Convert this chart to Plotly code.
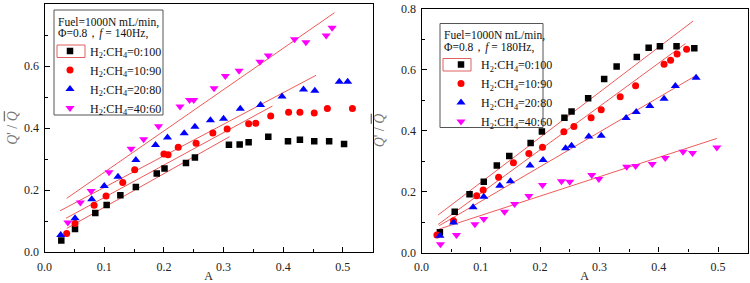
import plotly.graph_objects as go

# ---------------- data: left panel (f = 140 Hz) ----------------
series_labels = ["H<sub>2</sub>:CH<sub>4</sub>=0:100", "H<sub>2</sub>:CH<sub>4</sub>=10:90",
                 "H<sub>2</sub>:CH<sub>4</sub>=20:80", "H<sub>2</sub>:CH<sub>4</sub>=40:60"]
header_left = ["Fuel=1000N mL/min,", "Φ=0.8，<i>f</i> = 140Hz,"]
header_right = ["Fuel=1000N mL/min,", "Φ=0.8，<i>f</i> = 180Hz,"]

l_x_0_100 = [0.028, 0.051, 0.085, 0.104, 0.127, 0.153, 0.188, 0.201, 0.237, 0.252, 0.309, 0.327, 0.342, 0.375, 0.408, 0.428, 0.452, 0.477, 0.502]
l_y_0_100 = [0.037, 0.074, 0.126, 0.152, 0.183, 0.210, 0.253, 0.269, 0.287, 0.305, 0.346, 0.347, 0.354, 0.372, 0.357, 0.362, 0.357, 0.357, 0.348]
l_x_10_90 = [0.037, 0.051, 0.083, 0.103, 0.131, 0.151, 0.200, 0.207, 0.224, 0.254, 0.282, 0.306, 0.342, 0.354, 0.379, 0.409, 0.428, 0.452, 0.474, 0.516]
l_y_10_90 = [0.060, 0.092, 0.151, 0.181, 0.224, 0.265, 0.316, 0.314, 0.338, 0.351, 0.384, 0.397, 0.414, 0.415, 0.439, 0.451, 0.451, 0.448, 0.463, 0.463]
l_x_20_80 = [0.027, 0.051, 0.079, 0.100, 0.123, 0.153, 0.186, 0.206, 0.234, 0.252, 0.278, 0.300, 0.328, 0.362, 0.398, 0.434, 0.453, 0.494, 0.508]
l_y_20_80 = [0.055, 0.109, 0.170, 0.213, 0.243, 0.297, 0.345, 0.369, 0.383, 0.404, 0.425, 0.430, 0.462, 0.474, 0.502, 0.524, 0.520, 0.549, 0.549]
l_x_40_60 = [0.039, 0.060, 0.078, 0.108, 0.145, 0.166, 0.191, 0.227, 0.243, 0.250, 0.284, 0.303, 0.326, 0.361, 0.375, 0.419, 0.438, 0.472, 0.482]
l_y_40_60 = [0.095, 0.160, 0.197, 0.257, 0.333, 0.364, 0.406, 0.469, 0.490, 0.490, 0.528, 0.568, 0.585, 0.614, 0.634, 0.686, 0.677, 0.698, 0.723]

# fitted lines (end points) left
l_fit_x_0_100 = [0.037, 0.310]; l_fit_y_0_100 = [0.076, 0.372]
l_fit_x_10_90 = [0.036, 0.382]; l_fit_y_10_90 = [0.109, 0.471]
l_fit_x_20_80 = [0.026, 0.455]; l_fit_y_20_80 = [0.133, 0.570]
l_fit_x_40_60 = [0.037, 0.486]; l_fit_y_40_60 = [0.173, 0.772]

# ---------------- data: right panel (f = 180 Hz) ----------------
r_x_0_100 = [0.031, 0.056, 0.081, 0.105, 0.127, 0.148, 0.184, 0.203, 0.241, 0.253, 0.281, 0.308, 0.329, 0.363, 0.383, 0.402, 0.430, 0.460]
r_y_0_100 = [0.066, 0.134, 0.191, 0.232, 0.285, 0.316, 0.359, 0.397, 0.442, 0.462, 0.506, 0.569, 0.610, 0.641, 0.671, 0.676, 0.676, 0.670]
r_x_10_90 = [0.026, 0.054, 0.093, 0.104, 0.130, 0.155, 0.181, 0.204, 0.240, 0.257, 0.286, 0.303, 0.335, 0.361, 0.409, 0.420, 0.431, 0.447]
r_y_10_90 = [0.057, 0.104, 0.186, 0.205, 0.247, 0.294, 0.325, 0.345, 0.396, 0.413, 0.442, 0.468, 0.511, 0.547, 0.617, 0.630, 0.651, 0.666]
r_x_20_80 = [0.031, 0.054, 0.087, 0.105, 0.132, 0.150, 0.183, 0.205, 0.243, 0.253, 0.282, 0.303, 0.345, 0.362, 0.385, 0.409, 0.428, 0.463]
r_y_20_80 = [0.055, 0.098, 0.148, 0.183, 0.219, 0.234, 0.285, 0.303, 0.342, 0.350, 0.380, 0.383, 0.441, 0.461, 0.480, 0.504, 0.546, 0.573]
r_x_40_60 = [0.032, 0.059, 0.090, 0.105, 0.140, 0.157, 0.181, 0.204, 0.236, 0.250, 0.287, 0.299, 0.346, 0.361, 0.389, 0.411, 0.441, 0.457, 0.498]
r_y_40_60 = [0.027, 0.057, 0.093, 0.110, 0.134, 0.159, 0.185, 0.221, 0.234, 0.232, 0.254, 0.241, 0.281, 0.284, 0.290, 0.310, 0.330, 0.326, 0.344]

r_fit_x_0_100 = [0.028, 0.458]; r_fit_y_0_100 = [0.123, 0.759]
r_fit_x_10_90 = [0.028, 0.445]; r_fit_y_10_90 = [0.092, 0.685]
r_fit_x_20_80 = [0.030, 0.461]; r_fit_y_20_80 = [0.088, 0.578]
r_fit_x_40_60 = [0.030, 0.498]; r_fit_y_40_60 = [0.077, 0.374]

x_tick_vals = [0.0, 0.1, 0.2, 0.3, 0.4, 0.5]
y_tick_vals = [0.0, 0.2, 0.4, 0.6, 0.8]

# ---------------- styles ----------------
W, H = 750, 283
FONT = "Liberation Serif"
LEG_FS = 12
HDR_FS = 11.5
colors = ["#000000", "#ff0000", "#0000ff", "#ff00ff"]
symbols = ["square", "circle", "triangle-up", "triangle-down"]
sizes = [6.5, 7, 8, 8]
fit_color = "#ee5a5a"

fig = go.Figure()

left_sets = [(l_x_0_100, l_y_0_100, l_fit_x_0_100, l_fit_y_0_100),
             (l_x_10_90, l_y_10_90, l_fit_x_10_90, l_fit_y_10_90),
             (l_x_20_80, l_y_20_80, l_fit_x_20_80, l_fit_y_20_80),
             (l_x_40_60, l_y_40_60, l_fit_x_40_60, l_fit_y_40_60)]
right_sets = [(r_x_0_100, r_y_0_100, r_fit_x_0_100, r_fit_y_0_100),
              (r_x_10_90, r_y_10_90, r_fit_x_10_90, r_fit_y_10_90),
              (r_x_20_80, r_y_20_80, r_fit_x_20_80, r_fit_y_20_80),
              (r_x_40_60, r_y_40_60, r_fit_x_40_60, r_fit_y_40_60)]

for panel, sets in enumerate([left_sets, right_sets]):
    xa = "x" if panel == 0 else "x2"
    ya = "y" if panel == 0 else "y2"
    lg = "legend" if panel == 0 else "legend2"
    for i, (xs, ys, fx, fy) in enumerate(sets):
        fig.add_trace(go.Scatter(x=fx, y=fy, mode="lines", xaxis=xa, yaxis=ya,
                                 line=dict(color=fit_color, width=1), showlegend=False,
                                 hoverinfo="skip"))
    for i, (xs, ys, fx, fy) in enumerate(sets):
        fig.add_trace(go.Scatter(x=xs, y=ys, mode="markers", xaxis=xa, yaxis=ya,
                                 name=series_labels[i], legend=lg,
                                 marker=dict(symbol=symbols[i], color=colors[i], size=sizes[i],
                                             line=dict(width=0))))

def xaxis_cfg(domain):
    return dict(domain=domain, range=[0, 0.55], tickvals=x_tick_vals,
                ticktext=[f"{v:.1f}" for v in x_tick_vals], automargin=False,
                ticks="inside", ticklen=5, tickwidth=1, tickcolor="#000", ticklabelstandoff=3,
                minor=dict(dtick=0.05, tick0=0, ticks="inside", ticklen=3, tickwidth=1, tickcolor="#000"),
                showline=True, linecolor="#000", linewidth=1.2, mirror=True,
                showgrid=False, zeroline=False,
                tickfont=dict(family=FONT, size=12, color="#222"),
                title=dict(text="A", font=dict(family=FONT, size=12, color="#222"), standoff=0))

def yaxis_cfg(domain, anchor, standoff):
    return dict(domain=domain, range=[0, 0.8], anchor=anchor, tickvals=y_tick_vals,
                ticktext=[f"{v:.1f}" for v in y_tick_vals], automargin=False,
                ticks="inside", ticklen=5, tickwidth=1, tickcolor="#000", ticklabelstandoff=2,
                minor=dict(dtick=0.1, tick0=0, ticks="inside", ticklen=3, tickwidth=1, tickcolor="#000"),
                showline=True, linecolor="#000", linewidth=1.2, mirror=True,
                showgrid=False, zeroline=False,
                tickfont=dict(family=FONT, size=12, color="#222"),
                title=dict(text="<i>Q</i>' / <span style=\"text-decoration:overline\"><i>Q</i></span>",
                           font=dict(family=FONT, size=14, color="#777"), standoff=standoff))

legend_common = dict(bgcolor="rgba(0,0,0,0)", borderwidth=0,
                     font=dict(family=FONT, size=LEG_FS, color="#111"),
                     xanchor="left", yanchor="top", tracegroupgap=0, itemwidth=30)

# legend frames (px): left, top, right, bottom
frame_left = (54, 10, 163, 115)
frame_right = (440, 23.5, 543, 127.5)

fig.update_layout(
    width=W, height=H, margin=dict(l=0, r=0, t=0, b=0),
    paper_bgcolor="white", plot_bgcolor="white",
    xaxis=xaxis_cfg([44.6 / W, 372.7 / W]),
    yaxis=yaxis_cfg([1 - 252 / H, 1 - 4 / H], "x", 3),
    xaxis2=xaxis_cfg([421.5 / W, 747.7 / W]) | dict(anchor="y2"),
    yaxis2=yaxis_cfg([1 - 252.5 / H, 1 - 8.5 / H], "x2", 13),
    legend=dict(x=(frame_left[0] - 4) / W, y=1 - (frame_left[1] + 26.5) / H, **legend_common),
    legend2=dict(x=(frame_right[0] + 1) / W, y=1 - (frame_right[1] + 26.5) / H, **legend_common),
    showlegend=True,
)

for fr, hdr in [(frame_left, header_left), (frame_right, header_right)]:
    l, t, r, b = fr
    fig.add_shape(type="rect", xref="paper", yref="paper", layer="above",
                  x0=l / W, x1=r / W, y0=1 - b / H, y1=1 - t / H,
                  line=dict(color="#555", width=1), fillcolor="rgba(255,255,255,0)")
    for k, txt in enumerate(hdr):
        fig.add_annotation(xref="paper", yref="paper", x=(l + 2) / W, y=1 - (t + 12 + 11.6 * k) / H,
                           xanchor="left", yanchor="middle", showarrow=False, text=txt,
                           font=dict(family=FONT, size=HDR_FS, color="#111"))
    # red selection box around the first legend symbol (as in the original figure)
    fig.add_shape(type="rect", xref="paper", yref="paper", layer="above",
                  x0=(l + 3) / W, x1=(l + 31) / W, y0=1 - (t + 47.5) / H, y1=1 - (t + 35) / H,
                  line=dict(color="#e06060", width=1))

fig.write_html("out.html", config={"displayModeBar": False},
               post_script="document.body.style.margin='0px';document.body.style.overflow='hidden';")
